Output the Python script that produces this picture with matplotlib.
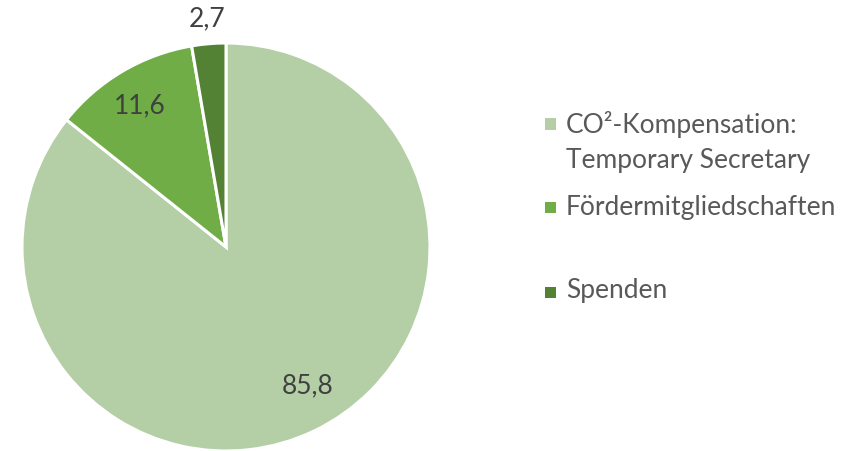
import numpy as np
import matplotlib.pyplot as plt
from matplotlib.patches import Rectangle

# Data
labels = ["CO²-Kompensation:\nTemporary Secretary", "Fördermitgliedschaften", "Spenden"]
values = [85.8, 11.6, 2.7]
value_text = ["85,8", "11,6", "2,7"]
colors = ["#B4CFA6", "#70AD47", "#548235"]

plt.rcParams['font.family'] = ['Lato', 'DejaVu Sans']

fig = plt.figure(figsize=(8.66, 4.51), dpi=100)
ax = fig.add_axes([22/866, 0.0, 408/866, 408/451])

wedges, _ = ax.pie(values, colors=colors, startangle=90, counterclock=False,
                   radius=1.0, wedgeprops=dict(edgecolor="white", linewidth=2.2))
ax.set_xlim(-1, 1)
ax.set_ylim(-1, 1)
ax.set_aspect("equal")

# label placement: (radius factor, angle nudge in degrees)
label_pos = [(0.79, 4.8), (0.81, 1.0), (1.125, 0.0)]
for w, txt, (r, da) in zip(wedges, value_text, label_pos):
    ang = np.deg2rad((w.theta1 + w.theta2) / 2 + da)
    ax.text(r*np.cos(ang), r*np.sin(ang), txt, ha="center", va="center",
            fontsize=19, color="#404040", clip_on=False)

# legend, drawn by hand to match spacing (marker centre y, first baseline y in px)
leg_marker_y = [124, 207, 292]
leg_base_y = [133, 215, 298]
for lab, c, ym, yb in zip(labels, colors, leg_marker_y, leg_base_y):
    fig.patches.append(Rectangle((545/866, 1 - (ym + 5.5)/451), 11/866, 11/451,
                                 transform=fig.transFigure, facecolor=c, edgecolor="none"))
    for i, line in enumerate(lab.split("\n")):
        fig.text(566/866, 1 - (yb + 35*i)/451, line, ha="left", va="baseline",
                 fontsize=19, color="#595959")

fig.savefig("out.png", dpi=100)
